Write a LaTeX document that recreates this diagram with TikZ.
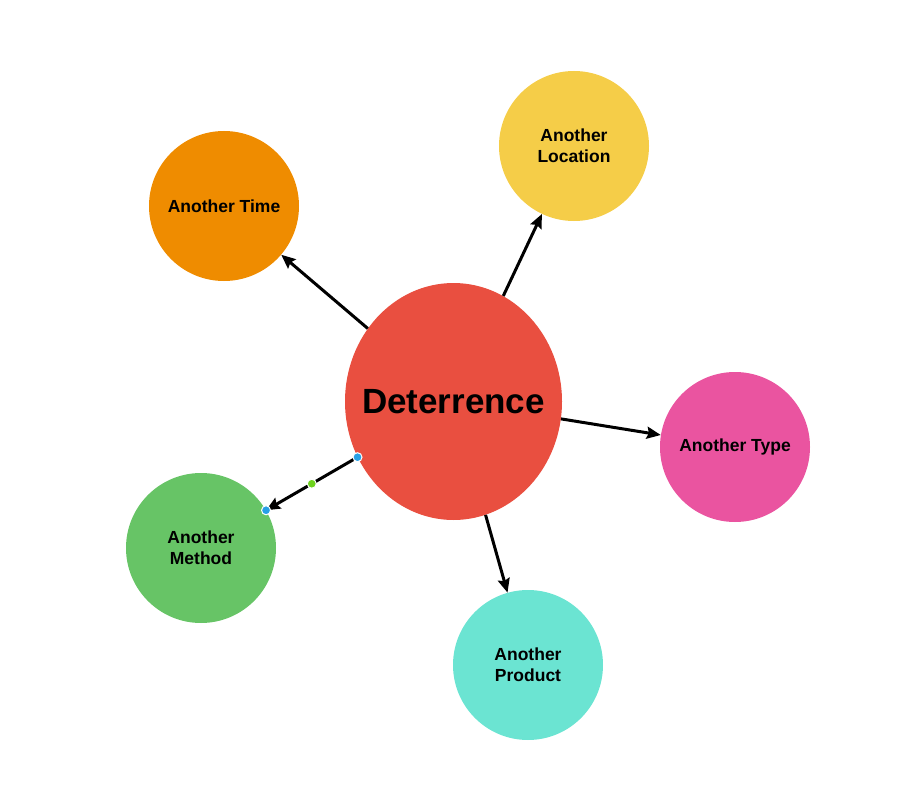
\documentclass[tikz,border=0pt]{standalone}
\usepackage{fontspec}
\setmainfont{Liberation Sans}
\usetikzlibrary{shapes.geometric,arrows.meta}
\definecolor{cred}{RGB}{233,79,64}
\definecolor{corange}{RGB}{239,140,0}
\definecolor{cyellow}{RGB}{245,205,72}
\definecolor{cpink}{RGB}{234,84,160}
\definecolor{cgreen}{RGB}{103,196,102}
\definecolor{cteal}{RGB}{107,228,210}
\definecolor{hblue}{RGB}{40,160,230}
\definecolor{hgreen}{RGB}{110,210,30}
\tikzset{
  topic/.style={circle, minimum size=150pt, inner sep=0pt, align=center,
    font=\fontsize{17.5}{21}\selectfont\bfseries, text=black},
  conn/.style={line width=3pt, draw=black,
    -{Stealth[length=14pt,width=12pt,inset=2pt]}},
  handle/.style={circle, minimum size=9pt, inner sep=0pt, draw=white, line width=1pt, fill=#1}
}
\begin{document}
\begin{tikzpicture}[x=1pt,y=-1pt]
\useasboundingbox (0,0) rectangle (900,797);
\node[ellipse, fill=cred, minimum width=217pt, minimum height=237pt, inner sep=0pt,
  label={[font=\fontsize{35}{40}\selectfont\bfseries]center:Deterrence}] (D) at (453.5,401.5) {};
\node[topic, fill=corange] (T) at (224,206) {Another Time};
\node[topic, fill=cyellow] (L) at (574,146) {Another\\Location};
\node[topic, fill=cpink] (Y) at (735,447) {Another Type};
\node[topic, fill=cgreen] (M) at (201,548) {Another\\Method};
\node[topic, fill=cteal] (P) at (528,665) {Another\\Product};
\draw[conn] (D) -- (T);
\draw[conn] (D) -- (L);
\draw[conn] (D) -- (Y);
\draw[conn] (D) -- (P);
\draw[conn] (D) -- node[pos=0, handle=hblue] (h1) {} node[midway, handle=hgreen] (h2) {} node[pos=1, handle=hblue] (h3) {} (M);
\end{tikzpicture}
\end{document}
